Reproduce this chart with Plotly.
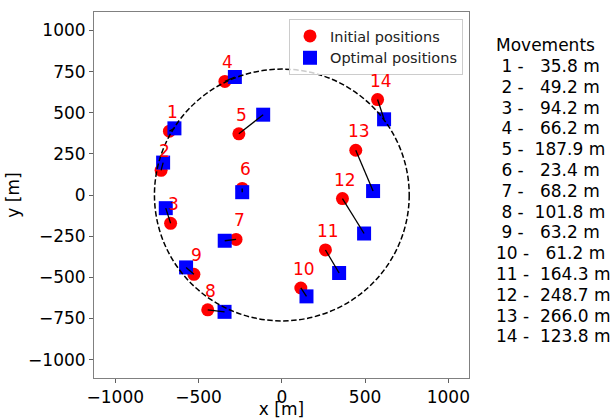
import plotly.graph_objects as go

# ---- data ----
ids = [1, 2, 3, 4, 5, 6, 7, 8, 9, 10, 11, 12, 13, 14]
init_x = [-675, -725, -668, -342, -258, -238, -275, -445, -528, 114, 262, 364, 444, 575]
init_y = [388, 150, -172, 690, 372, 40, -270, -698, -482, -565, -334, -22, 272, 580]
opt_x = [-645, -713, -697, -282, -112, -238, -343, -344, -575, 148, 344, 494, 548, 614]
opt_y = [405, 197, -80, 717, 488, 17, -278, -710, -440, -616, -474, -234, 24, 460]
movements = [35.8, 49.2, 94.2, 66.2, 187.9, 23.4, 68.2, 101.8, 63.2, 61.2, 164.3, 248.7, 266.0, 123.8]
circle_radius = 765
x_ticks = [-1000, -500, 0, 500, 1000]
y_ticks = [-1000, -750, -500, -250, 0, 250, 500, 750, 1000]

FONT = "DejaVu Sans"
W, H = 612, 419
ml, mr, mt, mb = 94, 143, 12, 41
pw, ph = W - ml - mr, H - mt - mb

fig = go.Figure()
fig.add_trace(go.Scatter(x=init_x, y=init_y, mode="markers", name="Initial positions",
                         marker=dict(color="red", size=13, symbol="circle", line=dict(width=0))))
fig.add_trace(go.Scatter(x=opt_x, y=opt_y, mode="markers", name="Optimal positions",
                         marker=dict(color="blue", size=14, symbol="square", line=dict(width=0))))

lx, ly = [], []
for a, b, c, d in zip(init_x, init_y, opt_x, opt_y):
    lx += [a, c, None]
    ly += [b, d, None]
fig.add_trace(go.Scatter(x=lx, y=ly, mode="lines", showlegend=False,
                         line=dict(color="black", width=1.3), hoverinfo="skip"))

fig.add_shape(type="circle", xref="x", yref="y",
              x0=-circle_radius, y0=-circle_radius, x1=circle_radius, y1=circle_radius,
              line=dict(color="black", width=1.5, dash="5.5px,2.5px"), layer="above")

annotations = []
for i, x, y in zip(ids, init_x, init_y):
    annotations.append(dict(x=x, y=y, xref="x", yref="y", text=str(i), showarrow=False,
                            yshift=19, xshift=3, font=dict(color="red", size=17, family=FONT)))

def py2paper(py):
    return (H - mb - py) / ph

tx = (494 - ml) / pw
annotations.append(dict(x=tx, y=py2paper(45), xref="paper", yref="paper", text="Movements",
                        showarrow=False, xanchor="left", yanchor="middle",
                        font=dict(color="black", size=17, family=FONT)))
for k, (i, m) in enumerate(zip(ids, movements)):
    s = f"{i:2d} - {m:6.1f} m".replace(" ", "\u00a0")
    annotations.append(dict(x=tx, y=py2paper(66 + 20.8 * k), xref="paper", yref="paper", text=s,
                            showarrow=False, xanchor="left", yanchor="middle",
                            font=dict(color="black", size=17, family=FONT)))

axis_common = dict(showgrid=False, zeroline=False, showline=True, mirror=True,
                   linecolor="#808080", linewidth=1, ticks="outside", ticklen=4,
                   tickcolor="#606060", tickfont=dict(size=17, color="black", family=FONT))

fig.update_layout(
    width=W, height=H,
    margin=dict(l=ml, r=mr, t=mt, b=mb, autoexpand=False),
    paper_bgcolor="white", plot_bgcolor="white",
    font=dict(family=FONT, color="black"),
    xaxis=dict(range=[-1128, 1124], tickvals=x_ticks, automargin=False,
               title=dict(text="x [m]", font=dict(size=17), standoff=3), **axis_common),
    yaxis=dict(range=[-1112, 1112], tickvals=y_ticks, automargin=False,
               title=dict(text="y [m]", font=dict(size=17), standoff=4), **axis_common),
    legend=dict(x=(463 - ml) / pw, y=py2paper(19), xanchor="right", yanchor="top",
                bordercolor="#cccccc", borderwidth=1, bgcolor="rgba(255,255,255,0.8)",
                font=dict(size=14.5, family=FONT, color="#222"), tracegroupgap=0),
    annotations=annotations,
    showlegend=True,
)

fig.write_html("out.html", config={"displayModeBar": False},
               post_script="document.body.style.margin='0';document.body.style.overflow='hidden';")
